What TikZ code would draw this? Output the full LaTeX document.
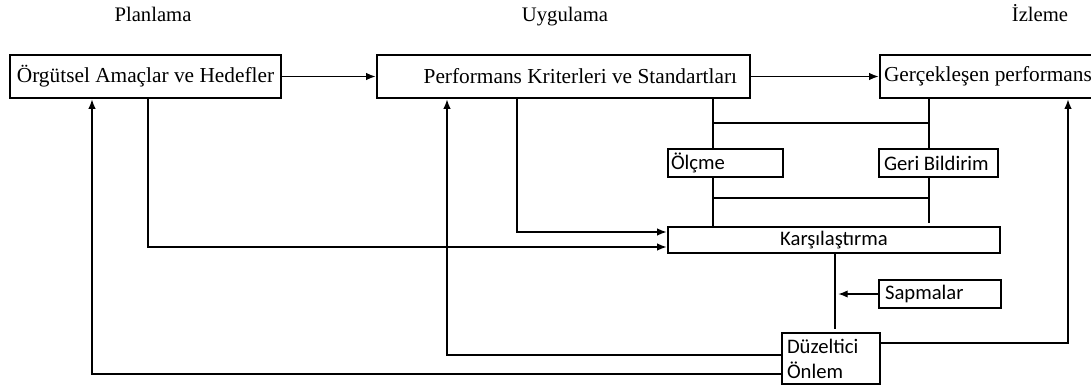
\documentclass[tikz,border=0pt]{standalone}
\usepackage{fontspec}
\setmainfont{Liberation Serif}
\newfontfamily\boxsans{Carlito}
\usetikzlibrary{arrows.meta}

\begin{document}
\begin{tikzpicture}[
  x=0.75pt, y=-0.75pt,
  title/.style={font=\fontsize{15.5}{18}\selectfont, anchor=base},
  box/.style={draw, line width=2.2pt, inner sep=2pt,
    font=\fontsize{16}{19}\selectfont},
  sbox/.style={draw, line width=2.2pt, inner sep=2pt,
    font=\boxsans\fontsize{15.5}{18.75}\selectfont},
  link/.style={line width=0.9pt},
  arr/.style={link, -{Latex[length=7pt,width=5.5pt]}}
]
\useasboundingbox (0,0) rectangle (1091,385);
\clip (0,0) rectangle (1091,385);

% phase headings
\node[title] (t1) at (153,22) {Planlama};
\node[title] (t2) at (565,22) {Uygulama};
\node[title] (t3) at (1040,22) {İzleme};

% main boxes
\node[box, minimum width=203.25pt, minimum height=32.25pt] (goals) at (145.5,76.5)
  {Örgütsel Amaçlar ve Hedefler};
\node[box, minimum width=279.75pt, minimum height=32.25pt, inner xsep=9.75pt,
  text width=260.25pt, align=flush right] (crit) at (563.5,76.5)
  {Performans Kriterleri ve Standartları};
\node[box, minimum width=165pt, minimum height=32.25pt, inner xsep=3pt,
  text width=159pt, align=flush left] (perf) at (990,76.5)
  {Gerçekleşen performans};

% control loop boxes
\node[sbox, minimum width=86.25pt, minimum height=21pt, inner xsep=2.25pt,
  text width=81.75pt, align=flush left] (olcme) at (725.5,163) {Ölçme};
\node[sbox, minimum width=89.25pt, minimum height=21pt, inner xsep=3.75pt,
  text width=81.75pt, align=flush left] (geri) at (938.5,163) {Geri Bildirim};
\node[sbox, minimum width=249pt, minimum height=19.5pt] (kars) at (834,240)
  {Karşılaştırma};
\node[sbox, minimum width=91.5pt, minimum height=21pt, inner xsep=4.5pt,
  text width=82.5pt, align=flush left] (sap) at (940,294) {Sapmalar};
\node[sbox, minimum width=73.5pt, minimum height=38.25pt, inner xsep=3.75pt,
  text width=66pt, align=flush left] (duz) at (831,358.5) {Düzeltici\\Önlem};

% rails of the connectors
\coordinate (xa) at (92,0);
\coordinate (xb) at (148,0);
\coordinate (xc) at (447,0);
\coordinate (xd) at (517,0);
\coordinate (xe) at (713,0);
\coordinate (xf) at (929,0);
\coordinate (xg) at (835,0);
\coordinate (xh) at (1068,0);
\coordinate (ya) at (0,123);
\coordinate (yb) at (0,198);
\coordinate (yc) at (0,232);
\coordinate (yd) at (0,247);
\coordinate (yf) at (0,343);
\coordinate (yg) at (0,355);
\coordinate (yh) at (0,374);
\coordinate (gend) at (929,223);
\coordinate (kend) at (835,329);

% top row
\draw[arr] (goals.east) -- (crit.west);
\draw[arr] (crit.east) -- (perf.west);

% inputs to the comparison
\draw[arr] (goals.south -| xb) |- (kars.west |- yd);
\draw[arr] (crit.south -| xd) |- (kars.west |- yc);

% measurement and feedback
\draw[link] (crit.south -| xe) -- (olcme.north -| xe);
\draw[link] (olcme.south -| xe) -- (kars.north -| xe);
\draw[link] (perf.south -| xf) -- (geri.north -| xf);
\draw[link] (geri.south -| xf) -- (gend);
\draw[link] (xe |- ya) -- (xf |- ya);
\draw[link] (xe |- yb) -- (xf |- yb);

% deviations and corrective action
\draw[link] (kars.south -| xg) -- (kend);
\draw[arr, shorten >=2.5pt] (sap.west) -- (xg |- sap.west);
\draw[arr] (duz.west |- yh) -| (goals.south -| xa);
\draw[arr] (duz.west |- yg) -| (crit.south -| xc);
\draw[arr] (duz.east |- yf) -| (perf.south -| xh);
\end{tikzpicture}
\end{document}
